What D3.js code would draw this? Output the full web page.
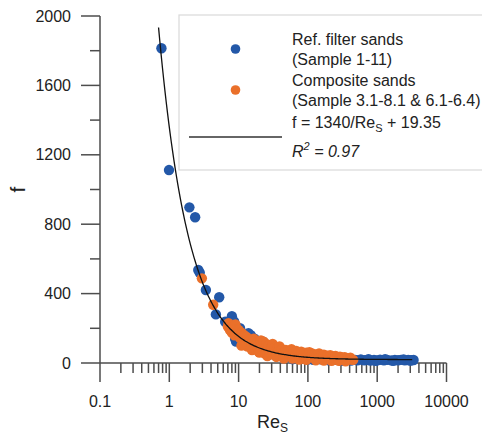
<!DOCTYPE html>
<html><head><meta charset="utf-8">
<script src="https://cdn.jsdelivr.net/npm/d3@7/dist/d3.min.js"></script>
<style>html,body{margin:0;padding:0;background:#fff;}svg{display:block;}</style>
</head><body>
<svg id="c" width="482" height="435"></svg>
<script>
// ---- data ----
const xTickLabels = ["0.1", "1", "10", "100", "1000", "10000"];
const yTickLabels = [0, 400, 800, 1200, 1600, 2000];
const refRe = [0.77,0.99,1.95,2.36,2.62,2.75,3.37,5.25,4.7,6.4,7.0,8.0,8.6,9.2,8.9,10.5,11,12,13.9,15,17,20,22.6,25,28,18,24,32,40,45,55,60,70,85,100,120,150,200,250,300,350,420,480,520,580,650,720,800,900,1000,1100,1250,1400,1600,1800,2000,2200,2500,2800,3100,3350,750,950,1300,1700,2400,3000];
const refF  = [1814,1112,897,840,536,520,421,379,280,238,235,270,240,123,140,200,170,150,172,160,140,118,123,100,90,80,60,50,45,27,35,22,30,25,20,18,22,15,18,12,16,14,18,15,20,16,18,14,17,15,19,16,18,15,17,16,18,16,17,16,17,22,13,22,12,20,14];
const compRe = [2.95,4.3,
  7.0,7.15,7.5,7.8,8.0,8.4,8.7,9.0,9.5,10,10.3,10.5,
  11,11.5,12,12,12.5,13,13.5,14,15,15.6,15.6,16,16.5,17,17.5,18,18.5,19,19.5,20,
  21,21.7,22,23,24,24,25,26,27,28.7,29,30,31,32,33,35,36,38,39,40,42,45,46,48,49.8,
  52,54,55,58,60,62,65,68,70,72,78,80,85,88,90,95,100,100,
  105,110,115,121,125,130,135,140,145,150,155,165,170,180,190,200,210,220,230,240,250,260,270,280,290,300,310,330,340,360,370,400,410,430,450,
  26,35,45,60,75,95,130,170,220,280,350,20,12,11];
const compF  = [488,336,
  210,229,190,200,175,209,160,222,195,190,165,144,
  175,130,160,110,130,150,95,120,135,94,75,110,140,130,80,100,120,85,65,105,
  130,113,80,123,90,55,110,80,100,75,50,95,110,70,90,60,85,72,95,55,80,62,40,75,65,
  48,70,55,80,45,65,50,70,40,60,46,65,38,58,42,60,35,52,
  62,40,55,36,50,30,48,34,55,28,45,32,48,26,42,30,45,24,38,28,40,22,35,26,36,20,32,24,33,18,28,22,30,20,18,
  40,35,25,25,20,18,15,14,12,12,10,60,110,100];
// fit from legend: f = A/Re + B
const fitA = 1340, fitB = 19.35;
const fitRange = [0.7, 3200];

const svg = d3.select("#c");
const font = "Liberation Sans, Arial, Helvetica, sans-serif";
const axisColor = "#4d4d4d";
const blue = "#2358a8", orange = "#ea702a";

const x = d3.scaleLog().domain([0.1, 10000]).range([100, 446.5]);
const y = d3.scaleLinear().domain([0, 2000]).range([363, 16]);

// legend box (behind)
svg.append("rect").attr("x", 179).attr("y", 15).attr("width", 330).attr("height", 155)
  .attr("fill", "#fff").attr("stroke", "#d9d9d9").attr("stroke-width", 1.2);

// axes
const g = svg.append("g").attr("stroke", axisColor).attr("stroke-width", 1.5).attr("fill", "none");
g.append("line").attr("x1", x(0.1)).attr("x2", x(0.1)).attr("y1", y(2000)).attr("y2", y(0));
g.append("line").attr("x1", x(0.1)).attr("x2", x(10000)).attr("y1", y(0)).attr("y2", y(0));
// y ticks
const yMinor = d3.range(200, 2000, 400);
yTickLabels.forEach(v => g.append("line").attr("x1", 81).attr("x2", x(0.1)).attr("y1", y(v)).attr("y2", y(v)));
yMinor.forEach(v => g.append("line").attr("x1", 90).attr("x2", x(0.1)).attr("y1", y(v)).attr("y2", y(v)));
// x ticks
const majors = xTickLabels.map(Number);
const minors = [];
majors.slice(0, -1).forEach(m => { for (let k = 2; k <= 9; k++) minors.push(m * k); });
majors.forEach(v => g.append("line").attr("x1", x(v)).attr("x2", x(v)).attr("y1", y(0)).attr("y2", y(0) + 19));
minors.forEach(v => g.append("line").attr("x1", x(v)).attr("x2", x(v)).attr("y1", y(0)).attr("y2", y(0) + 10));

// tick labels
svg.selectAll(".yl").data(yTickLabels).enter().append("text")
  .attr("x", 71).attr("y", d => y(d)).attr("dy", "0.35em").attr("text-anchor", "end")
  .attr("font-family", font).attr("font-size", 16).attr("fill", "#222").text(d => d);
svg.selectAll(".xl").data(xTickLabels).enter().append("text")
  .attr("x", d => x(+d)).attr("y", 407).attr("text-anchor", "middle")
  .attr("font-family", font).attr("font-size", 16).attr("fill", "#222").text(d => d);

// axis titles
svg.append("text").attr("transform", `translate(25,${(y(0)+y(2000))/2}) rotate(-90)`)
  .attr("text-anchor", "middle").attr("font-family", font).attr("font-size", 21).attr("fill", "#222").text("f");
const xt = svg.append("text").attr("x", 257).attr("y", 428).attr("font-family", font).attr("font-size", 18).attr("fill", "#222");
xt.append("tspan").text("Re");
xt.append("tspan").attr("font-size", 12).attr("dy", 4).text("S");

// points
const refData = refRe.map((r, i) => [r, refF[i]]);
const compData = compRe.map((r, i) => [r, compF[i]]);
svg.append("g").selectAll("circle").data(refData).enter().append("circle")
  .attr("cx", d => x(d[0])).attr("cy", d => y(d[1])).attr("r", 5.2).attr("fill", blue);
svg.append("g").selectAll("circle").data(compData).enter().append("circle")
  .attr("cx", d => x(d[0])).attr("cy", d => y(d[1])).attr("r", 5.2).attr("fill", orange);

// fit curve
const curvePts = d3.range(0, 201).map(i => {
  const lr = Math.log10(fitRange[0]) + (Math.log10(fitRange[1]) - Math.log10(fitRange[0])) * i / 200;
  const r = Math.pow(10, lr);
  return [r, fitA / r + fitB];
});
svg.append("path").datum(curvePts)
  .attr("d", d3.line().x(d => x(d[0])).y(d => y(d[1])).curve(d3.curveMonotoneX))
  .attr("fill", "none").attr("stroke", "#111").attr("stroke-width", 1.3);

// legend
svg.append("circle").attr("cx", 235.5).attr("cy", 49).attr("r", 4.8).attr("fill", blue);
svg.append("circle").attr("cx", 235.5).attr("cy", 90).attr("r", 4.8).attr("fill", orange);
svg.append("line").attr("x1", 189).attr("x2", 282).attr("y1", 137).attr("y2", 137).attr("stroke", "#333").attr("stroke-width", 1.3);
const lt = (txt, yy) => svg.append("text").attr("x", 292).attr("y", yy).attr("font-family", font).attr("font-size", 16).attr("fill", "#222").text(txt);
lt("Ref. filter sands", 45);
lt("(Sample 1-11)", 65);
lt("Composite sands", 86);
lt("(Sample 3.1-8.1 & 6.1-6.4)", 106);
const eq = svg.append("text").attr("x", 292).attr("y", 128).attr("font-family", font).attr("font-size", 16).attr("fill", "#222");
eq.append("tspan").text("f = " + fitA + "/Re");
eq.append("tspan").attr("font-size", 11).attr("dy", 4).text("S");
eq.append("tspan").attr("dy", -4).text(" + " + fitB);
const r2 = svg.append("text").attr("x", 292).attr("y", 157).attr("font-family", font).attr("font-size", 16).attr("font-style", "italic").attr("fill", "#222");
r2.append("tspan").text("R");
r2.append("tspan").attr("font-size", 11).attr("dy", -7).text("2");
r2.append("tspan").attr("dy", 7).text(" = 0.97");
</script>
</body></html>
